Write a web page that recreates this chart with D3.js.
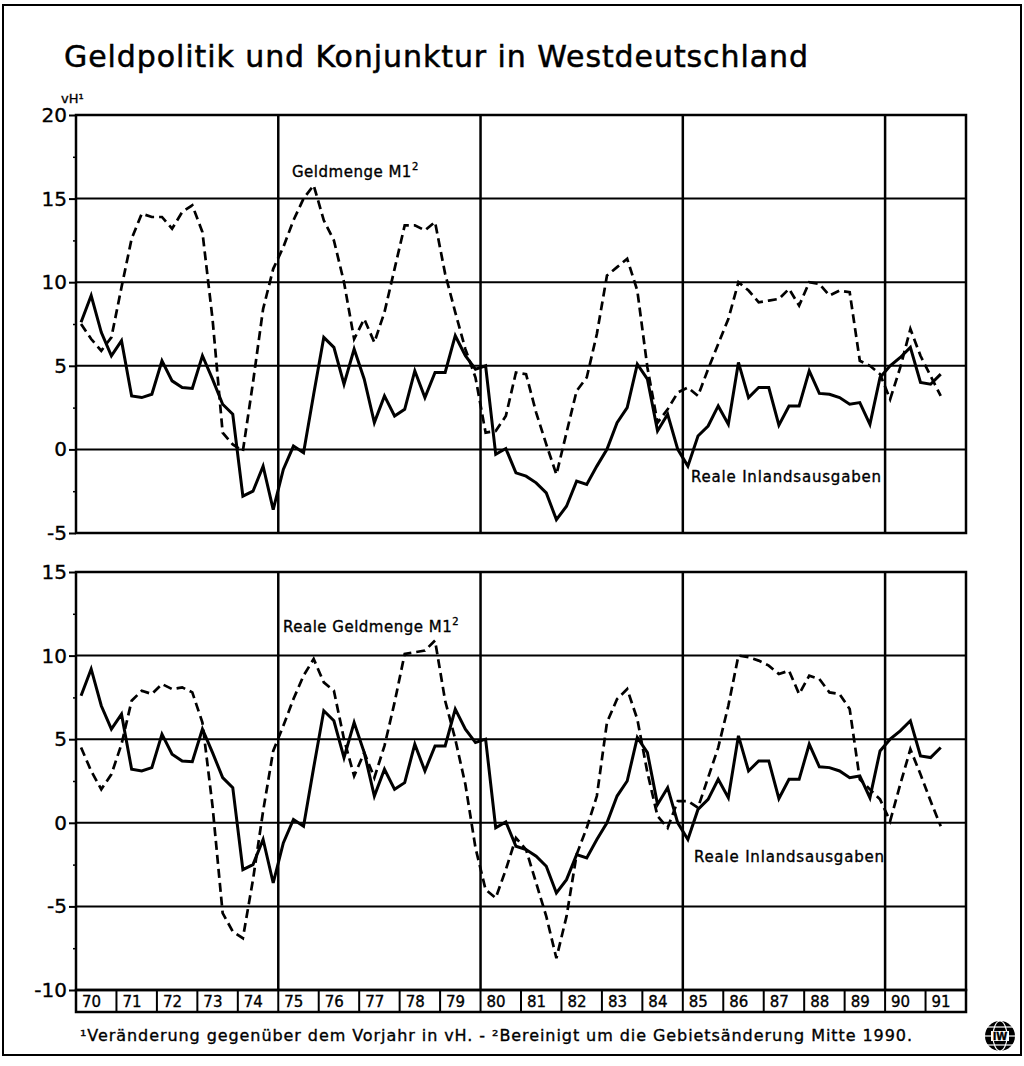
<!DOCTYPE html>
<html>
<head>
<meta charset="utf-8">
<script src="https://cdn.jsdelivr.net/npm/d3@7"></script>
<style>
  body { margin: 0; background: #fff; }
  svg { display: block; }
  text { font-family: "DejaVu Sans", sans-serif; fill: #000; stroke: #000; stroke-width: 0.35px; }
</style>
</head>
<body>
<svg width="1024" height="1066"></svg>
<script>
// quarterly values, 1970 Q1 .. 1991 Q2
const realeInlandsausgaben = [
  7.6, 9.2, 7.0, 5.6,   6.5, 3.2, 3.1, 3.3,   5.3, 4.1, 3.7, 3.65,
  5.6, 4.2, 2.7, 2.1,  -2.8, -2.5, -1.0, -3.6, -1.2, 0.2, -0.2, 3.3,
  6.7, 6.1, 3.9, 6.0,   4.2, 1.6, 3.2, 2.0,   2.4, 4.7, 3.1, 4.6,
  4.6, 6.8, 5.6, 4.8,   5.0, -0.3, 0.05, -1.4, -1.6, -2.0, -2.6, -4.2,
  -3.4, -1.9, -2.1, -1.0, 0.0, 1.6, 2.5, 5.1,  4.2, 1.1, 2.1, 0.0,
  -1.0, 0.8, 1.4, 2.6,  1.5, 5.2, 3.1, 3.7,   3.7, 1.45, 2.6, 2.6,
  4.7, 3.35, 3.3, 3.1,  2.7, 2.8, 1.5, 4.3,   5.0, 5.5, 6.1, 4.0,
  3.9, 4.5
];
const geldmengeM1 = [
  7.5, 6.6, 5.9, 6.7,   9.7, 12.6, 14.1, 13.9, 13.9, 13.2, 14.2, 14.6,
  13.0, 7.8, 1.0, 0.3, -0.1, 4.0, 8.4, 10.8,  12.1, 13.7, 15.0, 15.8,
  13.7, 12.5, 10.0, 6.6, 7.8, 6.4, 8.2, 10.8,  13.4, 13.4, 13.1, 13.6,
  10.5, 8.2, 6.0, 4.3,  1.0, 1.1, 2.0, 4.6,   4.5, 2.2, 0.3, -1.5,
  1.0, 3.5, 4.3, 6.9,   10.4, 10.9, 11.4, 9.5, 4.9, 1.6, 2.4, 3.4,
  3.7, 3.2, 4.8, 6.3,   7.8, 10.0, 9.5, 8.8,  8.9, 9.0, 9.6, 8.6,
  10.0, 9.9, 9.2, 9.5,  9.4, 5.3, 5.0, 4.5,   3.0, 4.9, 7.2, 5.6,
  4.4, 3.2
];
const realeGeldmengeM1 = [
  4.5, 3.1, 2.0, 2.9,   4.7, 7.3, 7.9, 7.7,   8.3, 8.0, 8.1, 7.8,
  6.0, 1.0, -5.4, -6.5, -6.9, -3.4, 0.7, 4.3, 5.8, 7.4, 8.8, 9.8,
  8.4, 7.9, 5.0, 2.8,   4.2, 2.7, 4.6, 7.2,   10.1, 10.2, 10.3, 10.9,
  7.3, 5.0, 2.3, -1.5, -4.0, -4.5, -2.8, -0.9, -1.6, -3.6, -5.6, -8.1,
  -5.6, -1.9, -0.3, 1.6, 6.0, 7.4, 8.0, 6.2,  3.0, 0.4, -0.3, 1.3,
  1.3, 0.9, 2.7, 4.5,   7.0, 10.0, 9.9, 9.7,  9.4, 8.9, 9.1, 7.7,
  8.8, 8.6, 7.8, 7.7,   6.8, 2.6, 2.0, 1.4,   0.1, 2.3, 4.4, 2.9,
  1.3, -0.2
];
const yearLabels = ["70","71","72","73","74","75","76","77","78","79","80",
  "81","82","83","84","85","86","87","88","89","90","91"];
const topTicks = [-5, 0, 5, 10, 15, 20];
const bottomTicks = [-10, -5, 0, 5, 10, 15];
const yearGrid = [1975, 1980, 1985, 1990];

const svg = d3.select("svg");

const left = 76, right = 966;
const x = d3.scaleLinear().domain([1970, 1992]).range([left, right]);
const quarterTime = i => 1970 + (i + 0.5) / 4;

// outer frame
svg.append("rect")
  .attr("x", 3).attr("y", 5).attr("width", 1018).attr("height", 1050)
  .attr("fill", "none").attr("stroke", "#000").attr("stroke-width", 2);

svg.append("text")
  .attr("x", 64).attr("y", 67)
  .attr("font-size", 30)
  .attr("textLength", 744).attr("lengthAdjust", "spacing")
  .style("stroke-width", "0.5px")
  .text("Geldpolitik und Konjunktur in Westdeutschland");

svg.append("text")
  .attr("x", 61).attr("y", 103)
  .attr("font-size", 13)
  .text("vH¹");

function panel(domain, range, ticks, seriesB, labelB, labelA) {
  const y = d3.scaleLinear().domain(domain).range(range);
  const g = svg.append("g");

  // minor ticks
  g.append("g")
    .attr("transform", "translate(" + left + ",0)")
    .call(d3.axisLeft(y).tickValues(ticks.slice(0, -1).map(d => d + 2.5)).tickSize(3).tickFormat(""))
    .call(a => a.select(".domain").remove())
    .selectAll("line").attr("stroke-width", 1.5);

  // major ticks + labels
  g.append("g")
    .attr("transform", "translate(" + left + ",0)")
    .call(d3.axisLeft(y).tickValues(ticks).tickSize(7).tickPadding(2).tickFormat(d => String(d)))
    .call(a => a.select(".domain").remove())
    .call(a => a.selectAll("line").attr("stroke-width", 2))
    .call(a => a.selectAll("text").attr("font-size", 20).attr("font-family", "DejaVu Sans, sans-serif"));

  // horizontal grid
  g.selectAll(".hgrid").data(ticks).enter().append("line")
    .attr("x1", left).attr("x2", right)
    .attr("y1", d => y(d)).attr("y2", d => y(d))
    .attr("stroke", "#000").attr("stroke-width", 2);

  // vertical grid
  g.selectAll(".vgrid").data(yearGrid).enter().append("line")
    .attr("x1", d => x(d)).attr("x2", d => x(d))
    .attr("y1", y(domain[1])).attr("y2", y(domain[0]))
    .attr("stroke", "#000").attr("stroke-width", 2.5);

  g.append("rect")
    .attr("x", left).attr("y", y(domain[1]))
    .attr("width", right - left).attr("height", y(domain[0]) - y(domain[1]))
    .attr("fill", "none").attr("stroke", "#000").attr("stroke-width", 2.5);

  const line = d3.line()
    .x((d, i) => x(quarterTime(i)))
    .y(d => y(d));

  g.append("path")
    .datum(seriesB)
    .attr("fill", "none")
    .attr("stroke", "#000")
    .attr("stroke-width", 2.7)
    .attr("stroke-dasharray", "9,5")
    .attr("d", line);

  g.append("path")
    .datum(realeInlandsausgaben)
    .attr("fill", "none")
    .attr("stroke", "#000")
    .attr("stroke-linejoin", "miter")
    .attr("stroke-width", 3)
    .attr("d", line);

  const lb = g.append("text")
    .attr("x", labelB.x).attr("y", labelB.y)
    .attr("font-size", 15)
    .attr("letter-spacing", 0.5);
  lb.append("tspan").text(labelB.text);
  lb.append("tspan").attr("dy", -7).attr("font-size", 10).text("2");

  g.append("text")
    .attr("x", labelA.x).attr("y", labelA.y)
    .attr("font-size", 15)
    .attr("textLength", 190).attr("lengthAdjust", "spacing")
    .text("Reale Inlandsausgaben");

  return y;
}

panel([-5, 20], [533, 115], topTicks, geldmengeM1,
  { x: 292, y: 177, text: "Geldmenge M1" },
  { x: 691, y: 482 });

const yb = panel([-10, 15], [990, 572], bottomTicks, realeGeldmengeM1,
  { x: 283, y: 632, text: "Reale Geldmenge M1" },
  { x: 694, y: 862 });

// year boxes
const boxTop = yb(-10), boxBottom = 1012;
const yg = svg.append("g");
yg.append("rect")
  .attr("x", left).attr("y", boxTop)
  .attr("width", right - left).attr("height", boxBottom - boxTop)
  .attr("fill", "none").attr("stroke", "#000").attr("stroke-width", 2.5);
yg.selectAll(".div").data(yearLabels.slice(1)).enter().append("line")
  .attr("x1", (d, i) => x(1971 + i)).attr("x2", (d, i) => x(1971 + i))
  .attr("y1", boxTop).attr("y2", boxBottom)
  .attr("stroke", "#000").attr("stroke-width", 2);
yg.selectAll(".yl").data(yearLabels).enter().append("text")
  .attr("x", (d, i) => x(1970 + i) + 6)
  .attr("y", boxBottom - 5)
  .attr("font-size", 15)
  .text(d => d);

svg.append("text")
  .attr("x", 80).attr("y", 1041)
  .attr("font-size", 16)
  .attr("textLength", 832).attr("lengthAdjust", "spacing")
  .text("¹Veränderung gegenüber dem Vorjahr in vH. - ²Bereinigt um die Gebietsänderung Mitte 1990.");

// emblem
const logo = svg.append("g").attr("transform", "translate(1000,1036)");
logo.append("circle").attr("r", 15).attr("fill", "#000");
[-9, 0, 9].forEach(dy => {
  logo.append("line").attr("x1", -15).attr("x2", 15).attr("y1", dy).attr("y2", dy)
    .attr("stroke", "#fff").attr("stroke-width", 1.2);
});
logo.append("ellipse").attr("rx", 7).attr("ry", 15)
  .attr("fill", "none").attr("stroke", "#fff").attr("stroke-width", 1.2);
logo.append("rect").attr("x", -9).attr("y", -5).attr("width", 18).attr("height", 10)
  .attr("fill", "#fff");
logo.append("text").attr("text-anchor", "middle").attr("y", 4)
  .attr("font-size", 10).attr("font-weight", "bold").text("IW");
</script>
</body>
</html>
